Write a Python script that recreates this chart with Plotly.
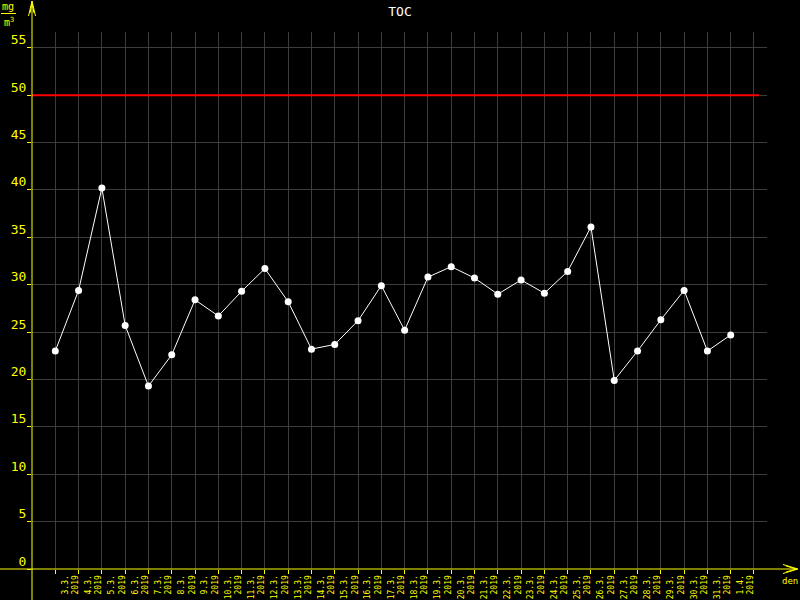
import plotly.graph_objects as go

# ---- data ----
dates = ["3.3.", "4.3.", "5.3.", "6.3.", "7.3.", "8.3.", "9.3.", "10.3.", "11.3.", "12.3.",
         "13.3.", "14.3.", "15.3.", "16.3.", "17.3.", "18.3.", "19.3.", "20.3.", "21.3.", "22.3.",
         "23.3.", "24.3.", "25.3.", "26.3.", "27.3.", "28.3.", "29.3.", "30.3.", "31.3.", "1.4."]
year = "2019"
toc = [23.0, 29.4, 40.2, 25.7, 19.3, 22.6, 28.4, 26.7, 29.3, 31.7,
       28.2, 23.2, 23.7, 26.2, 29.9, 25.2, 30.8, 31.9, 30.7, 29.0,
       30.5, 29.1, 31.4, 36.1, 19.9, 23.0, 26.3, 29.4, 23.0, 24.7]
limit_value = 50
y_ticks = list(range(0, 60, 5))
title = "TOC"
unit_top = "mg"
unit_bottom = "m<sup>3</sup>"
x_unit = "den"

# ---- layout constants ----
W, H = 800, 600
ML, MR, MT, MB = 32, 33, 32, 31
PX_PER_DAY = 23.29
PX_PER_UNIT = 9.477
plot_w = W - ML - MR
plot_h = H - MT - MB
x_max = plot_w / PX_PER_DAY
y_max = plot_h / PX_PER_UNIT
YEL = "#ffff00"
GRID = "#3c3c3c"
FONT = "DejaVu Sans Mono"

x_idx = list(range(1, len(dates) + 1))
tick_vals = list(range(1, len(dates) + 2))
tick_text = [d + "<br>" + year for d in dates] + [" "]


def px(xp):
    return (xp - ML) / plot_w


def py(yp):
    return (H - MB - yp) / plot_h


fig = go.Figure()
fig.add_trace(go.Scatter(
    x=x_idx, y=toc, mode="lines+markers",
    line=dict(color="white", width=1),
    marker=dict(color="white", size=7),
    cliponaxis=False, showlegend=False, hoverinfo="skip",
))

shapes = []
# limit line
shapes.append(dict(type="line", xref="x", yref="y", x0=0, x1=(759 - ML) / PX_PER_DAY,
                   y0=limit_value, y1=limit_value, line=dict(color="#ff0000", width=2), layer="above"))
# axis lines (extending beyond the grid)
shapes.append(dict(type="line", xref="paper", yref="paper", x0=0, x1=0, y0=py(600), y1=py(1),
                   line=dict(color=YEL, width=1)))
shapes.append(dict(type="line", xref="paper", yref="paper", x0=px(0), x1=px(797), y0=0, y1=0,
                   line=dict(color=YEL, width=1)))
# arrows
shapes.append(dict(type="path", xref="paper", yref="paper",
                   path=f"M {px(28.5)},{py(16)} L {px(32)},{py(1)} L {px(35.5)},{py(16)}",
                   line=dict(color=YEL, width=1)))
shapes.append(dict(type="path", xref="paper", yref="paper",
                   path=f"M {px(30)},{py(13)} L {px(32)},{py(3)} L {px(34)},{py(13)}",
                   line=dict(color=YEL, width=1)))
shapes.append(dict(type="path", xref="paper", yref="paper",
                   path=f"M {px(783)},{py(564.5)} L {px(798)},{py(569)} L {px(783)},{py(573.5)}",
                   line=dict(color=YEL, width=1)))
shapes.append(dict(type="path", xref="paper", yref="paper",
                   path=f"M {px(786)},{py(566)} L {px(796)},{py(569)} L {px(786)},{py(572)}",
                   line=dict(color=YEL, width=1)))
# unit fraction bar
shapes.append(dict(type="line", xref="paper", yref="paper", x0=px(1), x1=px(16), y0=py(13.5), y1=py(13.5),
                   line=dict(color=YEL, width=1)))

annotations = [
    dict(text=unit_top, xref="paper", yref="paper", x=px(8), y=py(13), showarrow=False,
         font=dict(family=FONT, size=10, color=YEL), xanchor="center", yanchor="bottom",
         borderpad=0),
    dict(text=unit_bottom, xref="paper", yref="paper", x=px(9), y=py(14.5), showarrow=False,
         font=dict(family=FONT, size=10, color=YEL), xanchor="center", yanchor="top",
         borderpad=0),
    dict(text=x_unit, xref="paper", yref="paper", x=px(790), y=py(580.5), showarrow=False,
         font=dict(family=FONT, size=9, color=YEL), xanchor="center", yanchor="middle"),
]

fig.update_layout(
    width=W, height=H,
    paper_bgcolor="black", plot_bgcolor="black",
    margin=dict(l=ML, r=MR, t=MT, b=MB, pad=0, autoexpand=False),
    title=dict(text=title, x=0.5, xref="container", y=1 - 11 / H, yref="container",
               xanchor="center", yanchor="middle", automargin=False,
               font=dict(family=FONT, size=13, color="white")),
    xaxis=dict(range=[0, x_max], tickmode="array", tickvals=tick_vals, ticktext=tick_text,
               showgrid=True, gridcolor=GRID, gridwidth=1, zeroline=False, automargin=False,
               showline=False, ticks="outside", ticklen=4, tickcolor=YEL, tickwidth=1,
               tickangle=-90, ticklabelshift=15, ticklabelstandoff=-2,
               tickfont=dict(family=FONT, size=8, color=YEL), fixedrange=True),
    yaxis=dict(range=[0, y_max], tickmode="array", tickvals=y_ticks, automargin=False,
               showgrid=True, gridcolor=GRID, gridwidth=1, zeroline=False,
               showline=False, ticks="outside", ticklen=4, tickcolor=YEL, tickwidth=1,
               ticklabelshift=-8, ticklabelstandoff=-2,
               tickfont=dict(family=FONT, size=13, color=YEL), fixedrange=True),
    shapes=shapes,
    annotations=annotations,
)

fig.write_html("out.html", config={"displayModeBar": False},
               post_script="document.body.style.margin='0';document.body.style.background='black';")
